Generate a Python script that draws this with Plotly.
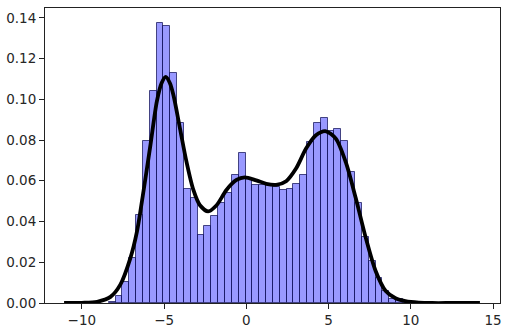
import numpy as np
import plotly.graph_objects as go

# Histogram (density) values
bin_first_edge = -8.37
bin_width = 0.416
density = [0.0005, 0.0032, 0.0105, 0.0219, 0.0432, 0.0797, 0.104, 0.1375, 0.1362,
           0.1128, 0.0883, 0.0558, 0.0515, 0.0333, 0.038, 0.0425, 0.049, 0.0539,
           0.0628, 0.0737, 0.0612, 0.058, 0.058, 0.058, 0.057, 0.0554, 0.0558,
           0.0584, 0.063, 0.079, 0.0883, 0.091, 0.0843, 0.0855, 0.0797, 0.0644,
           0.0492, 0.0323, 0.0206, 0.0125, 0.006, 0.0019, 0.0019, 0.0012, 0.0005]

# KDE curve points
kde_x = [-11.08, -10.0, -9.07, -8.26, -7.66, -7.05, -6.65, -6.25, -5.84, -5.44,
         -5.15, -4.9, -4.65, -4.43, -4.03, -3.63, -3.22, -2.82, -2.32, -1.81,
         -1.21, -0.60, -0.1, 0.6, 1.21, 1.81, 2.42, 3.02, 3.63, 4.23, 4.84,
         5.44, 6.05, 6.65, 7.26, 7.86, 8.46, 9.07, 9.67, 10.48, 11.3, 12.5, 14.2]
kde_y = [0.0, 0.0001, 0.0006, 0.003, 0.009, 0.022, 0.035, 0.055, 0.077, 0.099,
         0.108, 0.111, 0.108, 0.102, 0.0855, 0.069, 0.0555, 0.048, 0.045, 0.048,
         0.0555, 0.0604, 0.0617, 0.0602, 0.0585, 0.058, 0.0598, 0.066, 0.0758,
         0.0823, 0.0843, 0.0807, 0.069, 0.0515, 0.032, 0.0157, 0.006, 0.0023,
         0.0009, 0.0002, 0.0, 0.0, 0.0]

x_ticks = [-10, -5, 0, 5, 10, 15]
y_ticks = [0.0, 0.02, 0.04, 0.06, 0.08, 0.10, 0.12, 0.14]

centers = [bin_first_edge + bin_width * (i + 0.5) for i in range(len(density))]

fig = go.Figure()
fig.add_trace(go.Bar(
    x=centers, y=density, width=bin_width,
    marker=dict(color="rgba(0,0,255,0.4)",
                line=dict(color="rgba(20,20,90,0.75)", width=1)),
    showlegend=False, hoverinfo="skip"))
fig.add_trace(go.Scatter(
    x=kde_x, y=kde_y, mode="lines",
    line=dict(color="black", width=3.8, shape="spline", smoothing=0.8),
    showlegend=False))

axis_common = dict(showline=True, linecolor="#222", linewidth=1, mirror=True,
                   ticks="outside", ticklen=5, tickcolor="#222", tickwidth=1,
                   showgrid=False, zeroline=False,
                   tickfont=dict(family="DejaVu Sans", size=13.5, color="#262626"))

fig.update_layout(
    width=508, height=334,
    margin=dict(l=44, r=6, t=8, b=28),
    paper_bgcolor="white", plot_bgcolor="white",
    bargap=0,
    xaxis=dict(range=[-12.24, 15.42], tickvals=x_ticks,
               ticktext=[str(t).replace("-", "\u2212") for t in x_ticks],
               **axis_common),
    yaxis=dict(range=[0, 0.1448], tickvals=y_ticks,
               ticktext=[f"{t:.2f}" for t in y_ticks], **axis_common),
)

fig.write_html("out.html")
